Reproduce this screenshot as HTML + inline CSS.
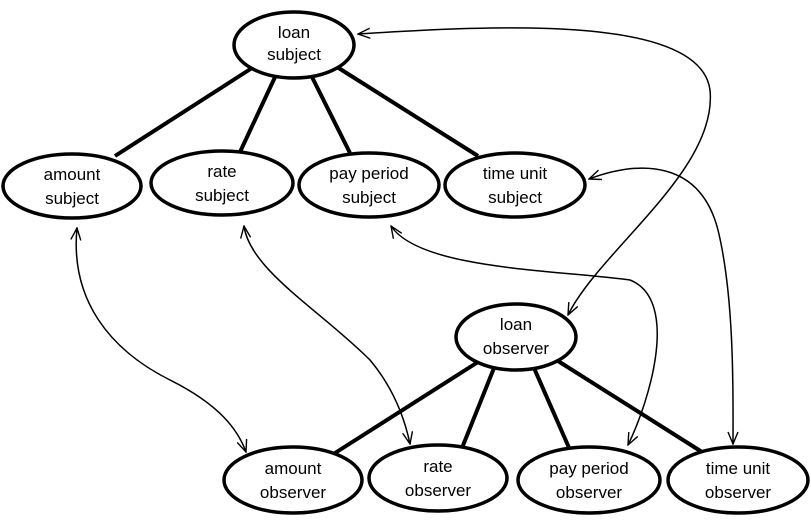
<!DOCTYPE html>
<html><head><style>
html,body{margin:0;padding:0;background:#fff;}
svg{display:block;}
text{font-family:"Liberation Sans",sans-serif;font-size:17px;fill:#000;text-anchor:middle;}
</style></head><body>
<svg width="811" height="520" viewBox="0 0 811 520">
<defs>
<marker id="a" markerWidth="14" markerHeight="12" refX="13" refY="6" orient="auto-start-reverse" markerUnits="userSpaceOnUse">
<path d="M1,1 L13,6 L1,11" fill="none" stroke="#000" stroke-width="1.4"/>
</marker>
</defs>
<g stroke="#000" stroke-width="4" fill="none">
<line x1="252" y1="68" x2="115" y2="156"/>
<line x1="276" y1="75" x2="240" y2="152"/>
<line x1="311" y1="75" x2="350" y2="153"/>
<line x1="337" y1="67" x2="478" y2="156"/>
<line x1="478" y1="362" x2="335" y2="453"/>
<line x1="494" y1="368" x2="462" y2="448"/>
<line x1="534" y1="368" x2="570" y2="450"/>
<line x1="558" y1="361" x2="702" y2="452"/>
</g>
<g stroke="#000" stroke-width="1.5" fill="none" marker-start="url(#a)" marker-end="url(#a)">
<path d="M358,34 C500,25 700,15 710,90 C718,170 600,250 568,315"/>
<path d="M589,179 C640,160 700,160 718,230 C735,300 733,400 733,444"/>
<path d="M391,226 C420,270 560,270 630,280 C680,300 650,400 628,445"/>
<path d="M244,226 C250,270 320,310 370,360 C395,390 405,420 410,444"/>
<path d="M77,228 C70,300 110,350 170,380 C220,405 238,430 246,452"/>
</g>
<g stroke="#000" stroke-width="3.5" fill="#fff">
<ellipse cx="294" cy="45" rx="60" ry="33"/>
<ellipse cx="72" cy="186" rx="69" ry="32"/>
<ellipse cx="222" cy="183" rx="71" ry="32"/>
<ellipse cx="369" cy="185" rx="70" ry="32"/>
<ellipse cx="515" cy="185" rx="70" ry="32"/>
<ellipse cx="516" cy="337" rx="60" ry="33"/>
<ellipse cx="293" cy="480" rx="69" ry="33"/>
<ellipse cx="438" cy="478" rx="69" ry="33"/>
<ellipse cx="589" cy="480" rx="71" ry="33"/>
<ellipse cx="738" cy="480" rx="70" ry="33"/>
</g>
<text x="294" y="38">loan</text><text x="294" y="60">subject</text>
<text x="72" y="180">amount</text><text x="72" y="204">subject</text>
<text x="222" y="177">rate</text><text x="222" y="201">subject</text>
<text x="369" y="179">pay period</text><text x="369" y="203">subject</text>
<text x="515" y="179">time unit</text><text x="515" y="203">subject</text>
<text x="516" y="330">loan</text><text x="516" y="354">observer</text>
<text x="293" y="474">amount</text><text x="293" y="498">observer</text>
<text x="438" y="472">rate</text><text x="438" y="496">observer</text>
<text x="589" y="474">pay period</text><text x="589" y="498">observer</text>
<text x="738" y="474">time unit</text><text x="738" y="498">observer</text>
</svg>
</body></html>
